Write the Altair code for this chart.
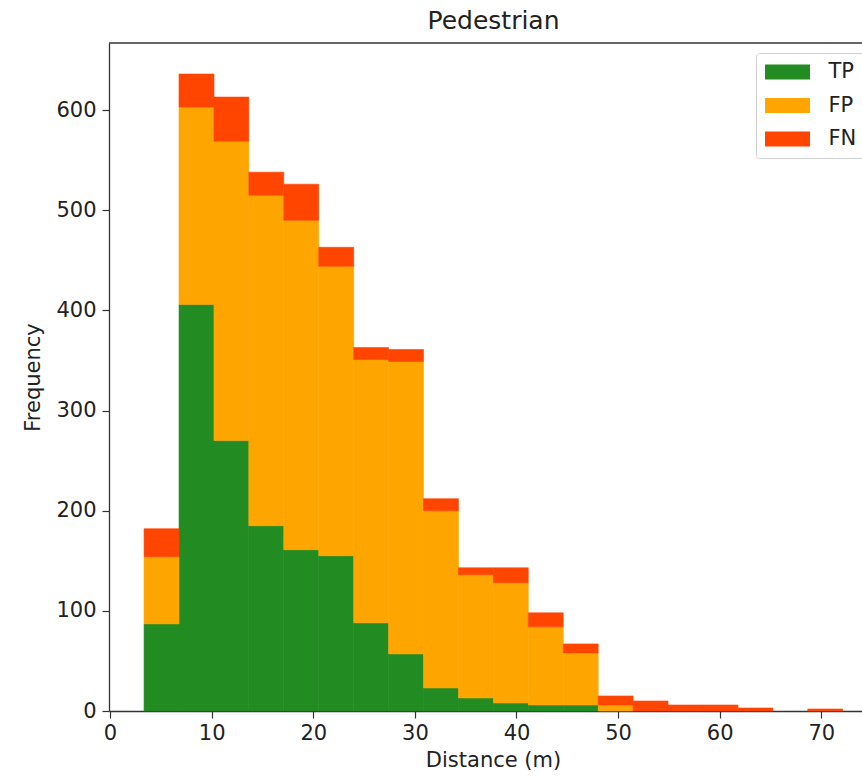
import altair as alt
import pandas as pd

series = ["TP", "FP", "FN"]
colors = ["#228B22", "#FFA500", "#FF4500"]
bin_edges = [3.35, 6.79, 10.23, 13.66, 17.10, 20.54, 23.98, 27.41, 30.85, 34.29,
             37.73, 41.16, 44.60, 48.04, 51.48, 54.91, 58.35, 61.79, 65.23, 68.66, 72.10]
tp_counts = [87, 406, 270, 185, 161, 155, 88, 57, 23, 13, 8, 6, 6, 0, 0, 0, 0, 0, 0, 0]
fp_counts = [67, 197, 299, 330, 329, 289, 263, 292, 177, 123, 120, 78, 52, 6, 0, 0, 0, 0, 0, 0]
fn_counts = [28, 33, 44, 23, 36, 19, 12, 12, 12, 7, 15, 14, 9, 9, 10, 6, 6, 3, 0, 2]
x_ticks = [0, 10, 20, 30, 40, 50, 60, 70]
y_ticks = [0, 100, 200, 300, 400, 500, 600]

rows = []
for k, (name, counts) in enumerate(zip(series, [tp_counts, fp_counts, fn_counts])):
    for i, c in enumerate(counts):
        rows.append({"series": name, "k": k, "start": bin_edges[i],
                     "end": bin_edges[i + 1], "count": c})
df = pd.DataFrame(rows)

W, H = 753, 668
FONT = "DejaVu Sans"
TXT = "#222222"
SPINE = "#333333"

color_scale = alt.Scale(domain=series, range=colors)

bars = alt.Chart(df).transform_stack(
    stack="count", groupby=["start"], as_=["y0", "y1"],
    sort=[alt.SortField("k", order="ascending")],
).transform_filter("datum.count > 0").mark_rect(strokeWidth=0.6).encode(
    x=alt.X("start:Q",
            scale=alt.Scale(domain=[-0.1, 74.0], nice=False, zero=False),
            axis=alt.Axis(values=x_ticks, title="Distance (m)", titleX=384,
                          labelPadding=4, titlePadding=6)),
    x2="end:Q",
    y=alt.Y("y0:Q",
            scale=alt.Scale(domain=[0, 667], nice=False),
            axis=alt.Axis(values=y_ticks, title="Frequency", labelPadding=6,
                          titlePadding=12)),
    y2="y1:Q",
    stroke=alt.Stroke("series:N", sort=series, scale=color_scale, legend=None),
    color=alt.Color("series:N", sort=series, scale=color_scale,
                    legend=alt.Legend(
                        title=None, orient="none", legendX=647, legendY=10,
                        symbolType="M-2.25,-0.75H2.25V0.75H-2.25Z",
                        symbolSize=400, symbolStrokeWidth=0,
                        symbolOffset=12.5, labelOffset=30.5,
                        labelFont=FONT, labelFontSize=21, labelColor=TXT,
                        padding=8.5, rowPadding=11.5,
                        strokeColor="#d0d0d0", fillColor="white",
                        cornerRadius=3)),
)

spine = alt.Chart(pd.DataFrame({"a": [0]})).mark_rule(
    color=SPINE, strokeWidth=1.3).encode(
    x=alt.value(0), x2=alt.value(W), y=alt.value(0))

chart = alt.layer(bars, spine).properties(
    width=W, height=H,
    title=alt.Title("Pedestrian", font=FONT, fontSize=25, fontWeight="normal",
                    color=TXT, anchor="middle", dx=8, offset=8),
    autosize=alt.AutoSizeParams(type="none"),
    padding={"left": 109, "top": 43, "right": 0, "bottom": 68},
).configure_view(stroke=None).configure_axis(
    grid=False, domainColor=SPINE, domainWidth=1.3, tickColor=SPINE,
    tickSize=7, tickWidth=1.2, labelFont=FONT, labelFontSize=21,
    labelColor=TXT, titleFont=FONT, titleFontSize=21, titleFontWeight="normal",
    titleColor=TXT,
)

chart.save("out.html", embed_options={"renderer": "svg", "actions": False})
